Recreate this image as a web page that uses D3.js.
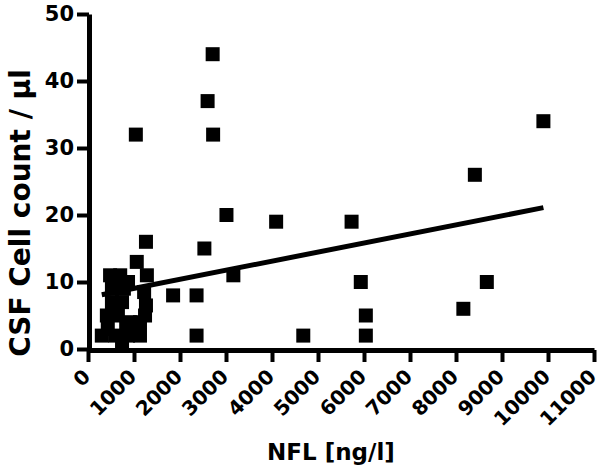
<!DOCTYPE html>
<html>
<head>
<meta charset="utf-8">
<script src="https://cdn.jsdelivr.net/npm/d3@7"></script>
<style>
  html, body { margin: 0; padding: 0; background: #fff; }
  svg { display: block; }
</style>
</head>
<body>
<svg id="chart" width="600" height="474"></svg>
<script>
// ---- data (NFL [ng/l], CSF cell count / µl) ----
const nfl = [
  2710, 2600, 2720, 1040, 3010, 4090, 5730, 8410, 9900, 2530,
  3160, 5930, 8670, 8160, 6040, 6040, 4680, 2360, 2360, 1850,
  1260, 1060, 1280,
  480, 700, 520, 780, 1220, 1260, 1240, 410, 650, 910,
  1130, 300, 590, 870, 740, 520, 740, 590, 870, 430, 830, 1130
];
const cellCount = [
  44, 37, 32, 32, 20, 19, 19, 26, 34, 15,
  11, 10, 10, 6, 5, 2, 2, 2, 8, 8,
  16, 13, 11,
  11, 11, 9, 9, 8.5, 6.5, 5, 5, 5, 4,
  4, 2, 2, 2, 1, 7, 7, 10, 10, 3, 3, 2
];
const fitSlope = 0.001353;
const fitIntercept = 7.7;
const xTicks = [0, 1000, 2000, 3000, 4000, 5000, 6000, 7000, 8000, 9000, 10000, 11000];
const yTicks = [0, 10, 20, 30, 40, 50];
const xTitle = "NFL [ng/l]";
const yTitle = "CSF Cell count / µl";

const svg = d3.select("#chart");
svg.append("rect").attr("width", 600).attr("height", 474).attr("fill", "#fff");

const x = d3.scaleLinear().domain([0, 11000]).range([88, 594]);
const y = d3.scaleLinear().domain([0, 50]).range([349, 14]);

const tickFont = "'DejaVu Sans', sans-serif";

// points
const pts = nfl.map((v, i) => ({x: v, y: cellCount[i]}));
const sq = 14;
svg.append("g").selectAll("rect").data(pts).join("rect")
  .attr("x", d => x(d.x) - sq / 2)
  .attr("y", d => y(d.y) - sq / 2)
  .attr("width", sq).attr("height", sq)
  .attr("fill", "#000");

// regression line
const ext = d3.extent(nfl);
const fit = ext.map(v => ({x: v, y: fitIntercept + fitSlope * v}));
svg.append("path")
  .datum(fit)
  .attr("d", d3.line().x(d => x(d.x)).y(d => y(d.y)))
  .attr("stroke", "#000").attr("stroke-width", 5).attr("fill", "none");

// y axis
const yAxis = svg.append("g").attr("transform", "translate(89,0)")
  .call(d3.axisLeft(y).tickValues(yTicks).tickFormat(d3.format("d"))
    .tickSize(12).tickSizeOuter(0).tickPadding(3));
yAxis.select(".domain").attr("stroke", "#000").attr("stroke-width", 5);
yAxis.selectAll(".tick line").attr("stroke", "#000").attr("stroke-width", 4);
yAxis.selectAll(".tick text")
  .attr("fill", "#000")
  .style("font-family", tickFont).style("font-weight", "bold").style("font-size", "21px");

// x axis
const xAxis = svg.append("g").attr("transform", "translate(0,350)")
  .call(d3.axisBottom(x).tickValues(xTicks).tickFormat(d3.format("d"))
    .tickSize(12).tickSizeOuter(0));
xAxis.select(".domain").attr("stroke", "#000").attr("stroke-width", 5);
xAxis.selectAll(".tick line").attr("stroke", "#000").attr("stroke-width", 4);
xAxis.selectAll(".tick text")
  .attr("x", 0).attr("y", 0).attr("dy", 0)
  .attr("transform", "translate(3,28) rotate(-45)")
  .style("text-anchor", "end")
  .attr("fill", "#000")
  .style("font-family", tickFont).style("font-weight", "bold").style("font-size", "20px");

// titles
svg.append("text")
  .attr("x", 331).attr("y", 460)
  .attr("text-anchor", "middle")
  .style("font-family", tickFont)
  .style("font-weight", "bold").style("font-size", "23px")
  .text(xTitle);

svg.append("text")
  .attr("transform", "translate(30,213) rotate(-90)")
  .attr("text-anchor", "middle")
  .style("font-family", tickFont)
  .style("font-weight", "bold").style("font-size", "28px")
  .text(yTitle);
</script>
</body>
</html>
